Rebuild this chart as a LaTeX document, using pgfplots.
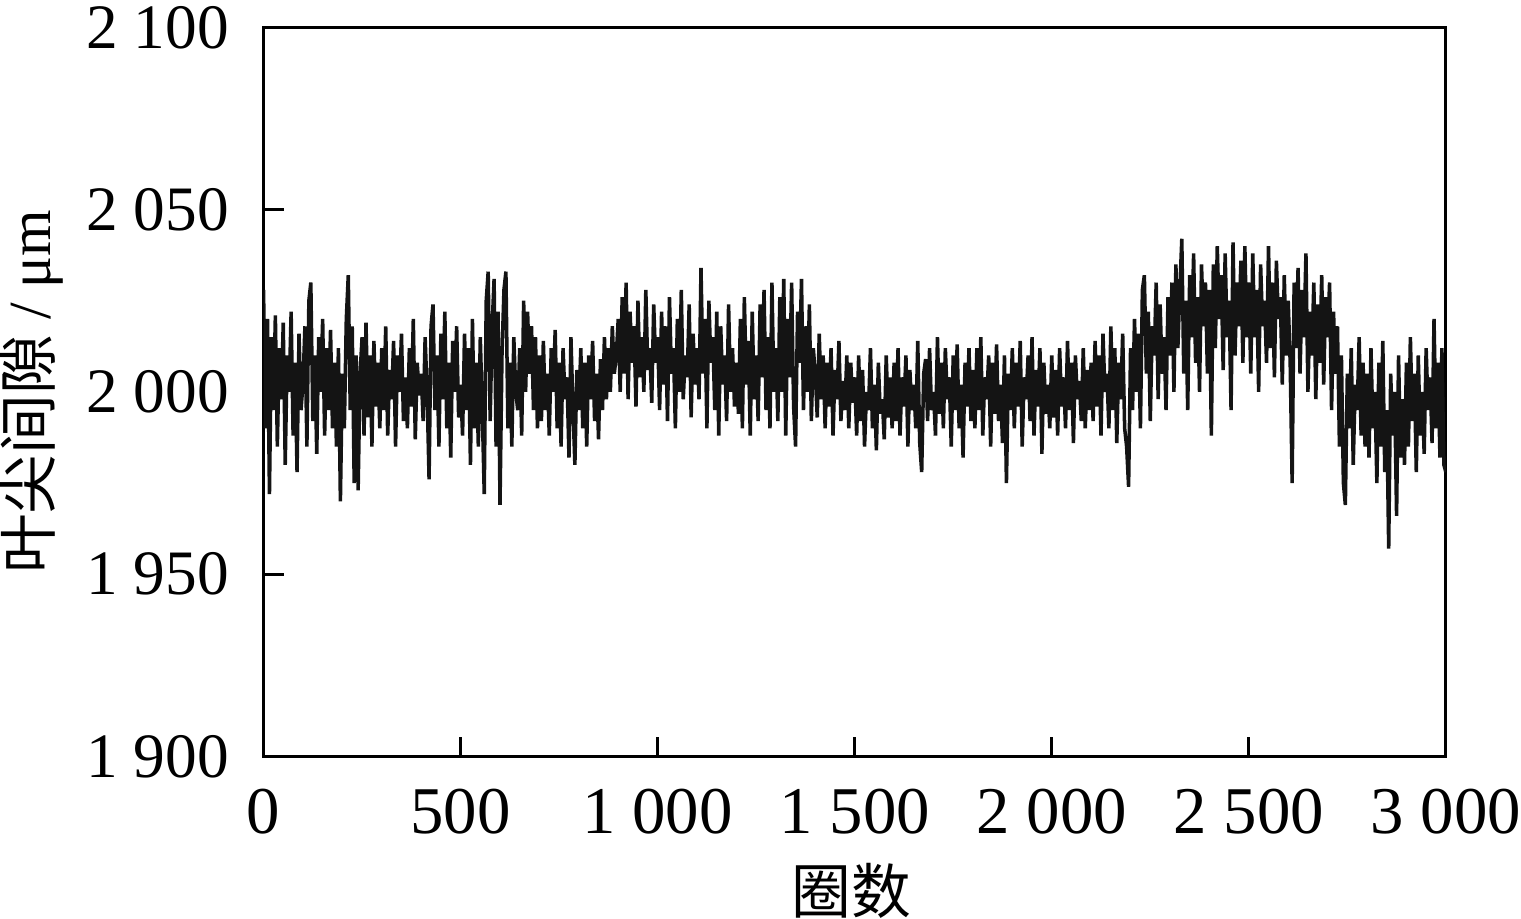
\documentclass[border=0pt]{standalone}
\usepackage{pgfplots}
\usepackage{pgfplotstable}
\pgfplotsset{compat=1.18}
\usepackage{fontspec}
\setmainfont{Liberation Serif}
\newfontfamily\cjk{Noto Sans CJK SC}
\pgfplotstableread[row sep=\\]{
y\\
2028\\1990\\2020\\1972\\2015\\1995\\2021\\1985\\2012\\1998\\2019\\1980\\2010\\2000\\2022\\1988\\2008\\1978\\2016\\1995\\
2002\\2018\\1985\\2025\\2030\\1992\\2010\\1983\\2015\\2000\\2020\\1988\\2012\\1995\\2017\\1990\\2008\\1985\\2012\\1970\\
2005\\1990\\2020\\2032\\1995\\2018\\1975\\2010\\1973\\2005\\2015\\1988\\2019\\1993\\2010\\1985\\2014\\1996\\2008\\1990\\
2012\\1995\\2018\\1988\\2006\\1998\\2014\\1985\\2010\\2000\\2016\\1992\\2004\\1990\\2012\\1996\\2020\\1987\\2008\\1999\\
2005\\1992\\2015\\2000\\1976\\2018\\2024\\1995\\2010\\1985\\2016\\1998\\2022\\1990\\2008\\1982\\2014\\2000\\2018\\1993\\
2002\\1988\\2016\\1995\\2012\\1980\\2020\\1990\\2008\\1985\\2015\\1995\\1972\\2025\\2033\\1992\\2018\\2031\\1985\\2022\\
1969\\2010\\2028\\2033\\1990\\2008\\1985\\2015\\2000\\1995\\2012\\1988\\2025\\2000\\2022\\2005\\2018\\1995\\2015\\1990\\
2010\\1992\\2014\\1995\\2005\\1988\\2012\\2000\\2017\\1990\\2008\\1985\\2012\\1998\\2004\\1982\\2015\\1996\\1980\\2006\\
1995\\2012\\1990\\2008\\1985\\2010\\1998\\2014\\1992\\2005\\1987\\2009\\1995\\2015\\1998\\2012\\2000\\2018\\2005\\2010\\
2020\\2000\\2026\\2005\\2030\\1998\\2022\\2008\\2018\\1996\\2025\\2004\\2015\\2000\\2028\\2006\\2012\\1997\\2024\\2008\\
2015\\1995\\2022\\2002\\2018\\1992\\2026\\2005\\2012\\1990\\2020\\2000\\2028\\1998\\2010\\2004\\2024\\1993\\2016\\2002\\
2012\\1998\\2034\\2005\\2020\\1990\\2025\\2008\\2015\\1995\\2022\\1988\\2018\\2002\\2010\\1992\\2024\\2000\\2012\\1996\\
2008\\1994\\2020\\1990\\2026\\2002\\2014\\1988\\2022\\1998\\2010\\1992\\2024\\2004\\2028\\1995\\2015\\1990\\2030\\2000\\
2012\\1992\\2026\\2000\\2031\\1988\\2020\\2004\\2030\\1996\\1985\\2022\\2008\\2031\\1995\\2018\\2000\\2024\\1992\\2012\\
2005\\1993\\2016\\1998\\2010\\1990\\2008\\1996\\2012\\1988\\2006\\1998\\2014\\1992\\2003\\1995\\2010\\1990\\2008\\1997\\
2004\\1988\\2010\\1992\\2006\\1985\\2000\\1995\\2012\\1990\\2002\\1984\\2008\\1994\\1998\\1987\\2010\\1993\\2004\\1990\\
2008\\1992\\2012\\1988\\2004\\1996\\2010\\1985\\2006\\1995\\2002\\1990\\2014\\1986\\1978\\2005\\2009\\1992\\2012\\1995\\
2000\\1988\\2015\\1994\\2008\\1990\\2012\\1998\\2004\\1985\\2010\\1995\\2013\\1990\\2002\\1982\\2008\\1996\\2012\\1992\\
2006\\1990\\2012\\1995\\2015\\1988\\2004\\1998\\2010\\1985\\2008\\1994\\2013\\1992\\2002\\1986\\2010\\1975\\2005\\1995\\
2012\\1990\\2008\\1996\\2014\\1985\\2004\\1998\\2010\\1992\\2015\\1988\\2006\\1996\\2012\\1983\\2008\\1994\\2002\\1990\\
2010\\1993\\2006\\1988\\2012\\1996\\2004\\1990\\2014\\1995\\2008\\1986\\2010\\1998\\2003\\1992\\2012\\1990\\2006\\1995\\
2008\\1992\\2014\\1996\\2010\\1988\\2016\\2000\\2005\\1990\\2018\\1995\\2012\\1986\\2008\\1998\\2016\\1990\\1985\\1974\\
2012\\1995\\2020\\2000\\2016\\1990\\2028\\2032\\2005\\2022\\1992\\2018\\2010\\2030\\1998\\2024\\2005\\2015\\1995\\2026\\
2010\\2030\\2000\\2035\\2012\\2028\\2042\\2005\\2025\\1995\\2032\\2015\\2038\\2008\\2026\\2000\\2035\\2018\\2030\\2005\\
2028\\1988\\2035\\2012\\2040\\2020\\2032\\2006\\2038\\2015\\2025\\1995\\2041\\2010\\2030\\2018\\2036\\2008\\2040\\2015\\
2030\\2005\\2038\\2015\\2028\\2000\\2035\\2018\\2025\\2008\\2040\\2012\\2030\\2004\\2036\\2020\\2026\\2002\\2032\\2010\\
2025\\2008\\1975\\2030\\2012\\2034\\2005\\2028\\2015\\2038\\2000\\2022\\2010\\2030\\1998\\2024\\2008\\2032\\2002\\2026\\
2015\\2030\\1995\\2022\\2005\\2018\\1985\\2010\\1975\\1969\\2005\\1990\\2012\\1980\\2002\\1995\\2015\\1988\\2008\\1985\\
2005\\1982\\2012\\1990\\2000\\1975\\2008\\1985\\2014\\1978\\1995\\1957\\2005\\1988\\2000\\1966\\2010\\1982\\1998\\1980\\
2008\\1985\\2015\\1992\\2005\\1978\\2010\\1988\\2000\\1983\\2012\\1995\\2004\\1986\\2020\\1990\\2008\\1982\\2012\\1980\\
1978\\
}\clearance
\begin{document}
\begin{tikzpicture}
\begin{axis}[
  scale only axis,
  width=118.2mm, height=72.9mm,
  xmin=0, xmax=3000, ymin=1900, ymax=2100,
  axis line style={line width=0.9pt},
  every tick/.style={line width=0.9pt, black},
  tick align=inside,
  major tick length=2mm,
  xtick pos=bottom, ytick pos=left,
  xtick={0,500,1000,1500,2000,2500,3000},
  xticklabels={0,500,1\ 000,1\ 500,2\ 000,2\ 500,3\ 000},
  ytick={1900,1950,2000,2050,2100},
  yticklabels={1\ 900,1\ 950,2\ 000,2\ 050,2\ 100},
  xticklabel style={font=\fontsize{19}{22}\selectfont, anchor=north, inner sep=0pt, yshift=-3.2mm},
  yticklabel style={font=\fontsize{18}{21}\selectfont, anchor=east, inner xsep=0pt, inner ysep=0.6mm, xshift=-3.4mm},
  xlabel={\cjk 圈数},
  ylabel={{\cjk 叶尖间隙} / μm},
  xlabel style={font=\fontsize{17}{20}\selectfont, inner sep=0pt, at={(axis description cs:0.497,0)}, anchor=center, yshift=-13.4mm},
  ylabel style={font=\fontsize{17}{20}\selectfont, inner sep=0pt, at={(axis description cs:0,0.5)}, anchor=center, yshift=23.2mm},
]
\addplot[color=black!92, line width=1pt, mark=none] table[x expr=\coordindex*5, y=y] {\clearance};
\end{axis}
\end{tikzpicture}
\end{document}
